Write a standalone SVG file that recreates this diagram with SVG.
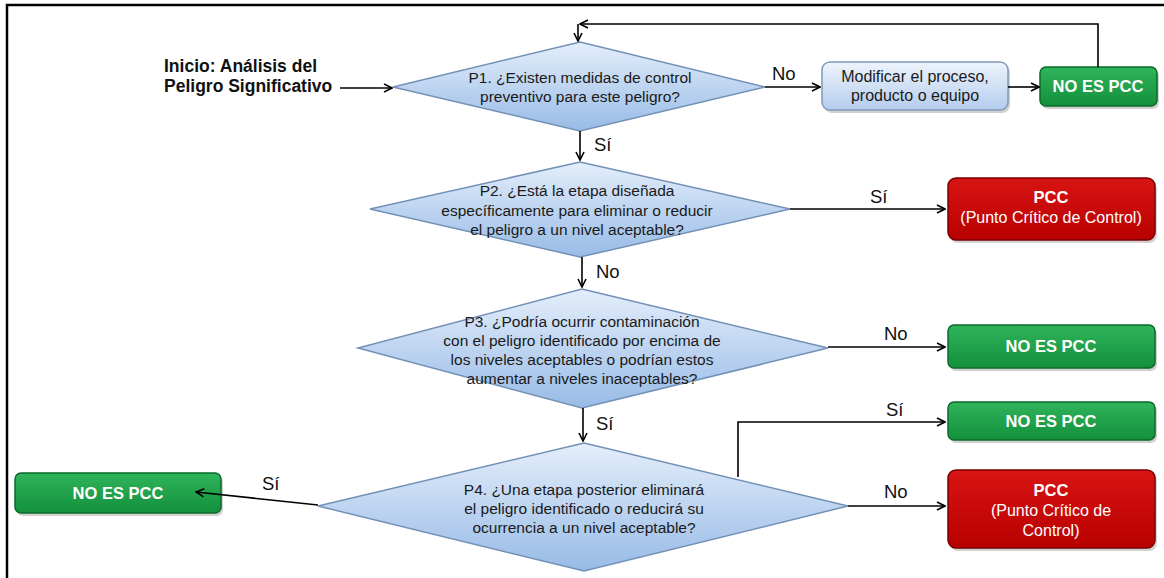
<svg xmlns="http://www.w3.org/2000/svg" width="1164" height="578" viewBox="0 0 1164 578">
<defs>
<linearGradient id="gDia" x1="0" y1="0" x2="0" y2="1">
<stop offset="0" stop-color="#e4eefb"/><stop offset="1" stop-color="#98bbe6"/>
</linearGradient>
<linearGradient id="gBlue" x1="0" y1="0" x2="0" y2="1">
<stop offset="0" stop-color="#eef4fc"/><stop offset="1" stop-color="#b4cced"/>
</linearGradient>
<linearGradient id="gGreen" x1="0" y1="0" x2="0" y2="1">
<stop offset="0" stop-color="#2fb45b"/><stop offset="1" stop-color="#13903c"/>
</linearGradient>
<linearGradient id="gRed" x1="0" y1="0" x2="0" y2="1">
<stop offset="0" stop-color="#d81414"/><stop offset="1" stop-color="#b80000"/>
</linearGradient>
<marker id="arr" viewBox="0 0 10 10" refX="9" refY="5" markerWidth="10" markerHeight="10" markerUnits="userSpaceOnUse" orient="auto">
<path d="M1,1 L9,5 L1,9" fill="none" stroke="#000" stroke-width="1.6"/>
</marker>
</defs>
<style>
.dia{fill:url(#gDia);stroke:#7391b6;stroke-width:1.5}
.bb{fill:url(#gBlue);stroke:#8199bb;stroke-width:1.5}
.gb{fill:url(#gGreen);stroke:#0b6a2a;stroke-width:1.5}
.rb{fill:url(#gRed);stroke:#7a0000;stroke-width:1.5}
.t{font-family:"Liberation Sans",Arial,sans-serif;font-size:15.5px;fill:#1a1a1a;text-anchor:middle}
.w{font-family:"Liberation Sans",Arial,sans-serif;font-size:16px;fill:#fff;text-anchor:middle}
.wb{font-family:"Liberation Sans",Arial,sans-serif;font-size:16.5px;fill:#fff;text-anchor:middle;font-weight:bold}
.lb{font-family:"Liberation Sans",Arial,sans-serif;font-size:18.5px;fill:#111}
.st{font-family:"Liberation Sans",Arial,sans-serif;font-size:17.5px;fill:#111;font-weight:bold}
.c{fill:none;stroke:#000;stroke-width:1.6;marker-end:url(#arr)}
.sh{fill:#000;opacity:0.18}
</style>
<rect x="0" y="0" width="1164" height="578" fill="#fff"/>
<path d="M7,578 V5 H1164" fill="none" stroke="#000" stroke-width="2.5"/>

<g id="start"><text class="st" x="164" y="72">Inicio: Análisis del</text><text class="st" x="164" y="92">Peligro Significativo</text></g>

<g id="p1"><polygon class="dia" points="580,42 765,87 580,131 393,87"/>
<text class="t" x="580" y="83">P1. ¿Existen medidas de control</text>
<text class="t" x="580" y="102">preventivo para este peligro?</text></g>

<g id="modificar"><rect class="sh" x="824" y="65" width="186" height="48" rx="8"/><rect class="bb" x="822" y="62" width="186" height="48" rx="8"/>
<text class="t" x="915" y="82" style="font-size:16px">Modificar el proceso,</text>
<text class="t" x="915" y="101" style="font-size:16px">producto o equipo</text></g>

<g id="nopcc1"><rect class="sh" x="1042" y="70" width="117" height="39" rx="6"/><rect class="gb" x="1040" y="67" width="117" height="39" rx="6"/>
<text class="wb" x="1098" y="92">NO ES PCC</text></g>

<g id="p2"><polygon class="dia" points="580,162 790,209 580,257 370,209"/>
<text class="t" x="577" y="196">P2. ¿Está la etapa diseñada</text>
<text class="t" x="577" y="216">específicamente para eliminar o reducir</text>
<text class="t" x="577" y="235">el peligro a un nivel aceptable?</text></g>

<g id="pcc1"><rect class="sh" x="950" y="181" width="207" height="62" rx="8"/><rect class="rb" x="948" y="178" width="207" height="62" rx="8"/>
<text class="wb" x="1051" y="203">PCC</text>
<text class="w" x="1051" y="223">(Punto Crítico de Control)</text></g>

<g id="p3"><polygon class="dia" points="582,289 828,348 582,408 358,348"/>
<text class="t" x="582" y="327">P3. ¿Podría ocurrir contaminación</text>
<text class="t" x="582" y="346">con el peligro identificado por encima de</text>
<text class="t" x="582" y="365">los niveles aceptables o podrían estos</text>
<text class="t" x="582" y="384">aumentar a niveles inaceptables?</text></g>

<g id="nopcc2"><rect class="sh" x="950" y="328" width="207" height="43" rx="6"/><rect class="gb" x="948" y="325" width="207" height="43" rx="6"/>
<text class="wb" x="1051" y="352">NO ES PCC</text></g>

<g id="p4"><polygon class="dia" points="584,443 848,506 584,571 318,506"/>
<text class="t" x="584" y="495">P4. ¿Una etapa posterior eliminará</text>
<text class="t" x="584" y="514">el peligro identificado o reducirá su</text>
<text class="t" x="584" y="533">ocurrencia a un nivel aceptable?</text></g>

<g id="nopcc3"><rect class="sh" x="950" y="405" width="207" height="38" rx="6"/><rect class="gb" x="948" y="402" width="207" height="38" rx="6"/>
<text class="wb" x="1051" y="427">NO ES PCC</text></g>

<g id="pcc2"><rect class="sh" x="950" y="473" width="207" height="78" rx="8"/><rect class="rb" x="948" y="470" width="207" height="78" rx="8"/>
<text class="wb" x="1051" y="496">PCC</text>
<text class="w" x="1051" y="516">(Punto Crítico de</text>
<text class="w" x="1051" y="536">Control)</text></g>

<g id="nopcc4"><rect class="sh" x="17" y="476" width="206" height="40" rx="6"/><rect class="gb" x="15" y="473" width="206" height="40" rx="6"/>
<text class="wb" x="118" y="499">NO ES PCC</text></g>

<g id="connectors">
<line class="c" x1="340" y1="88" x2="392" y2="88"/>
<path class="c" d="M1098,67 V24 H580"/>
<line class="c" x1="578" y1="24" x2="578" y2="41"/>
<line class="c" x1="765" y1="87" x2="820" y2="87"/>
<line class="c" x1="1008" y1="87" x2="1039" y2="87"/>
<line class="c" x1="580" y1="131" x2="580" y2="160"/>
<line class="c" x1="790" y1="209" x2="945" y2="209"/>
<line class="c" x1="582" y1="257" x2="582" y2="287"/>
<line class="c" x1="828" y1="347" x2="945" y2="347"/>
<line class="c" x1="583" y1="408" x2="583" y2="441"/>
<line class="c" x1="318" y1="505" x2="196" y2="492"/>
<path class="c" d="M738,477 V422 H945"/>
<line class="c" x1="848" y1="506" x2="945" y2="506"/>
</g>
<g id="labels">
<text class="lb" x="772" y="80">No</text>
<text class="lb" x="594" y="151">Sí</text>
<text class="lb" x="870" y="203">Sí</text>
<text class="lb" x="596" y="278">No</text>
<text class="lb" x="884" y="340">No</text>
<text class="lb" x="596" y="430">Sí</text>
<text class="lb" x="262" y="490">Sí</text>
<text class="lb" x="886" y="416">Sí</text>
<text class="lb" x="884" y="498">No</text>
</g>
</svg>
